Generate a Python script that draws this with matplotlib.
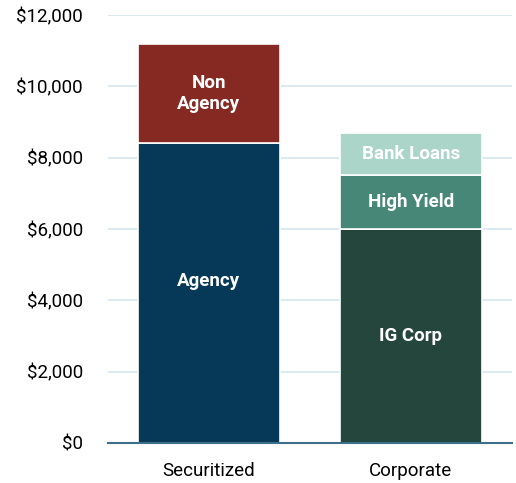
import matplotlib.pyplot as plt
import numpy as np

plt.rcParams['font.family'] = ['Roboto', 'DejaVu Sans']

categories = ['Securitized', 'Corporate']
# segments bottom to top
securitized_labels = ['Agency', 'Non\nAgency']
securitized_vals = [8400, 2800]
corporate_labels = ['IG Corp', 'High Yield', 'Bank Loans']
corporate_vals = [6000, 1500, 1200]

securitized_colors = ['#053957', '#862922']
corporate_colors = ['#25463c', '#478777', '#acd5c9']

yticks = [0, 2000, 4000, 6000, 8000, 10000, 12000]

fig = plt.figure(figsize=(5.16, 4.83), dpi=100)
ax = fig.add_axes([0.209, 0.083, 0.783, 0.886])

width = 0.7
for x, vals, labs, cols in [(0, securitized_vals, securitized_labels, securitized_colors),
                            (1, corporate_vals, corporate_labels, corporate_colors)]:
    bottom = 0
    for v, lab, c in zip(vals, labs, cols):
        ax.bar(x, v, width, bottom=bottom, color=c, edgecolor='white', linewidth=1.2, zorder=3)
        ypos = bottom + v / 2
        if lab == 'Agency':
            ypos = bottom + v * 0.54
        ax.text(x, ypos, lab, ha='center', va='center', color='white',
                fontsize=13.5, fontweight='bold', zorder=4, linespacing=1.25)
        bottom += v

ax.set_xlim(-0.5, 1.5)
ax.set_ylim(0, 12000)
ax.set_yticks(yticks)
ax.set_yticklabels(['${:,}'.format(t) for t in yticks], fontsize=13.5)
ax.set_xticks([0, 1])
ax.set_xticklabels(categories, fontsize=13.5)
ax.tick_params(axis='x', length=0, pad=14)
ax.tick_params(axis='y', length=0, pad=18)

ax.grid(axis='y', color='#d3e6ee', linewidth=1.2, zorder=0)
for s in ['top', 'right', 'left']:
    ax.spines[s].set_visible(False)
ax.spines['bottom'].set_color('#3d6f88')
ax.spines['bottom'].set_linewidth(1.5)
ax.spines['bottom'].set_zorder(5)

fig.savefig('out.png', dpi=100)
